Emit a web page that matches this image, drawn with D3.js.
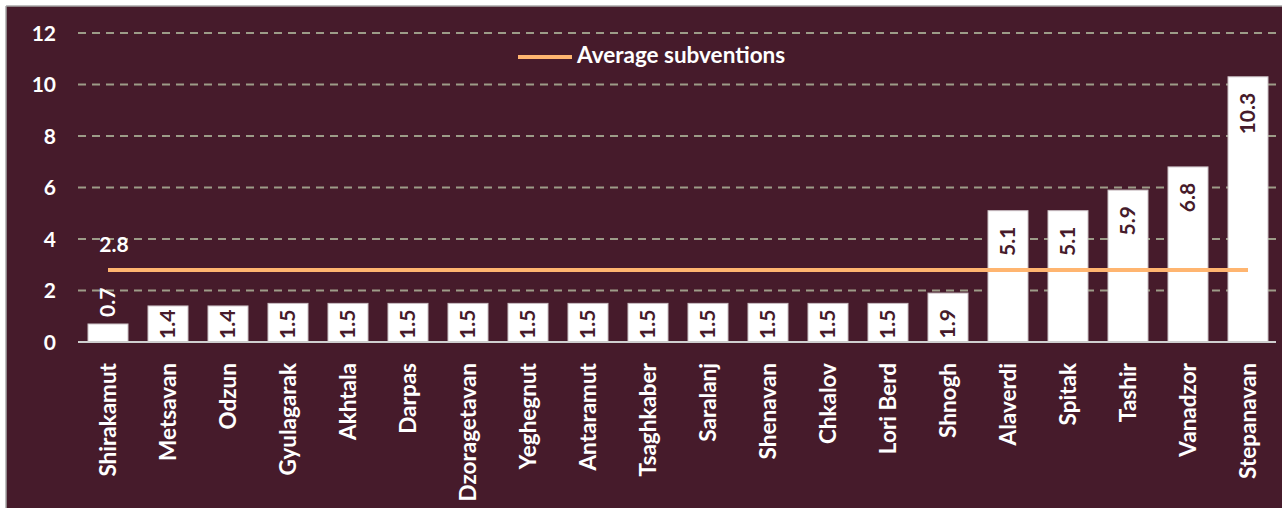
<!DOCTYPE html>
<html><head><meta charset="utf-8">
<script src="https://cdn.jsdelivr.net/npm/d3@7"></script>
<style>
html,body{margin:0;padding:0;background:#fff;overflow:hidden;}
svg{display:block;}
text{font-family:Lato,"Open Sans",sans-serif;font-weight:bold;}
</style></head><body>
<svg id="chart" width="1282" height="508"></svg>
<script>
const categories = ["Shirakamut","Metsavan","Odzun","Gyulagarak","Akhtala","Darpas","Dzoragetavan","Yeghegnut","Antaramut","Tsaghkaber","Saralanj","Shenavan","Chkalov","Lori Berd","Shnogh","Alaverdi","Spitak","Tashir","Vanadzor","Stepanavan"];
const values = [0.7,1.4,1.4,1.5,1.5,1.5,1.5,1.5,1.5,1.5,1.5,1.5,1.5,1.5,1.9,5.1,5.1,5.9,6.8,10.3];
const labels = ["0.7","1.4","1.4","1.5","1.5","1.5","1.5","1.5","1.5","1.5","1.5","1.5","1.5","1.5","1.9","5.1","5.1","5.9","6.8","10.3"];
const average = 2.8;
const averageLabel = "2.8";
const yTicks = [0,2,4,6,8,10,12];
const legendLabel = "Average subventions";

const svg = d3.select("#chart");
const bg = "#461b2b";
svg.append("rect").attr("x",6).attr("y",6).attr("width",1276).attr("height",502).attr("fill",bg);
svg.append("line").attr("x1",6).attr("x2",6).attr("y1",6).attr("y2",508).attr("stroke","#a9a9a9").attr("stroke-width",1.5);
svg.append("line").attr("x1",6).attr("x2",1282).attr("y1",6).attr("y2",6).attr("stroke","#a9a9a9").attr("stroke-width",1.5);

const x = d3.scaleBand().domain(categories).range([78,1278]).paddingInner(0.333).paddingOuter(0.1665);
const y = d3.scaleLinear().domain([0,12]).range([342,33]);

// gridlines
svg.append("g").selectAll("line").data(yTicks.filter(t=>t>0)).join("line")
  .attr("x1",78).attr("x2",1276).attr("y1",d=>y(d)).attr("y2",d=>y(d))
  .attr("stroke","#9d9c88").attr("stroke-width",2).attr("stroke-dasharray","8,6");

// y axis labels
const yAxis = d3.axisLeft(y).tickValues(yTicks).tickSize(0).tickPadding(0).tickFormat(d3.format("d"));
const yg = svg.append("g").attr("transform","translate(56,0)").call(yAxis);
yg.select(".domain").remove();
yg.selectAll("text").attr("fill","#fff").attr("font-size",21).attr("font-family","Lato").attr("font-weight","bold").attr("dy","0.35em");

// bars
svg.append("g").selectAll("rect").data(values).join("rect")
  .attr("x",(d,i)=>x(categories[i])).attr("width",x.bandwidth())
  .attr("y",d=>y(d)).attr("height",d=>y(0)-y(d))
  .attr("fill","#fff").attr("stroke","#c9bfc3").attr("stroke-width",1);

// baseline
svg.append("line").attr("x1",78).attr("x2",1276).attr("y1",y(0)).attr("y2",y(0)).attr("stroke","#cfcfcf").attr("stroke-width",2);

// x labels
const xAxis = d3.axisBottom(x).tickSize(0).tickPadding(0);
const xg = svg.append("g").attr("transform","translate(0,"+y(0)+")").call(xAxis);
xg.select(".domain").remove();
xg.selectAll("text").attr("fill","#fff").attr("font-size",22.5).attr("font-family","Lato").attr("font-weight","bold")
  .attr("text-anchor","end").attr("dy","0.35em")
  .attr("transform","translate(0,21) rotate(-90)").attr("x",0).attr("y",0);

// value labels
const vl = svg.append("g");
values.forEach((v,i)=>{
  const cx = x(categories[i]) + x.bandwidth()/2;
  const t = vl.append("text").text(labels[i]).attr("font-size",21).attr("dy","0.35em");
  const len = t.node().getComputedTextLength();
  const barTop = y(v);
  const h = y(0)-barTop;
  let top, fill;
  if (h < len) { top = barTop - 7 - len; fill = "#fff"; }
  else { top = Math.min(barTop + 16, y(0) - 3 - len); fill = bg; }
  t.attr("text-anchor","end").attr("fill",fill)
   .attr("transform","translate("+cx+","+top+") rotate(-90)");
});

// average line
const x0 = x(categories[0]) + x.bandwidth()/2;
const x1 = x(categories[categories.length-1]) + x.bandwidth()/2;
svg.append("line").attr("x1",x0).attr("x2",x1).attr("y1",y(average)).attr("y2",y(average))
  .attr("stroke","#ffb570").attr("stroke-width",4);
svg.append("text").attr("x",x0+6).attr("y",252).attr("text-anchor","middle").attr("fill","#fff").attr("font-size",21).text(averageLabel);

// legend
svg.append("line").attr("x1",518).attr("x2",572).attr("y1",57).attr("y2",57).attr("stroke","#ffb570").attr("stroke-width",4);
svg.append("text").attr("x",577).attr("y",63).attr("fill","#fff").attr("font-size",22.5).text(legendLabel);
</script>
</body></html>
